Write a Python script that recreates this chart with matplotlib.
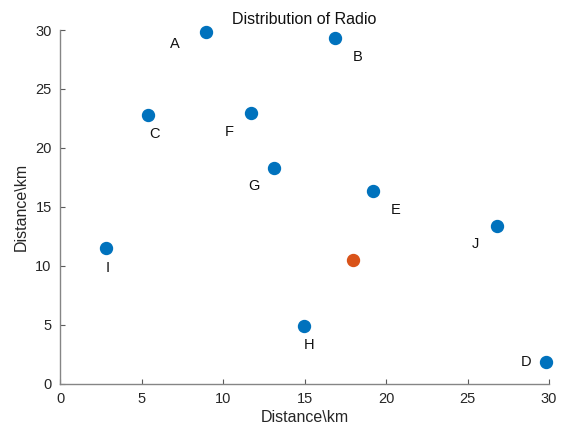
import matplotlib.pyplot as plt

plt.rcParams['font.family'] = ['Liberation Sans', 'DejaVu Sans']

# radio station positions (km)
names = ['A', 'B', 'C', 'D', 'E', 'F', 'G', 'H', 'I', 'J']
xs = [8.95, 16.85, 5.4, 29.8, 19.2, 11.7, 13.1, 14.95, 2.8, 26.8]
ys = [29.8, 29.3, 22.8, 1.85, 16.35, 22.95, 18.25, 4.9, 11.5, 13.35]
# the extra (orange) point
center_x = [17.95]
center_y = [10.5]

# label offsets from each point (data units)
label_dx = [-1.9, 1.4, 0.4, -1.2, 1.4, -1.3, -1.2, 0.35, 0.15, -1.3]
label_dy = [-1.0, -1.6, -1.6, -0.05, -1.6, -1.6, -1.5, -1.6, -1.7, -1.5]

fig = plt.figure(figsize=(5.65, 4.25), dpi=100)
ax = fig.add_axes([0.1062, 0.0976, 0.8655, 0.8318])

ax.plot(xs, ys, 'o', color='#0072BD', markersize=8.6, clip_on=False)
ax.plot(center_x, center_y, 'o', color='#D95319', markersize=8.6, clip_on=False)

for n, x, y, dx, dy in zip(names, xs, ys, label_dx, label_dy):
    ax.text(x + dx, y + dy, n, fontsize=10.5, ha='center', va='center', color='#111111')

ax.set_xlim(0, 30)
ax.set_ylim(0, 30)
ax.set_xticks(range(0, 31, 5))
ax.set_yticks(range(0, 31, 5))

for side in ['top', 'right']:
    ax.spines[side].set_visible(False)
for side in ['left', 'bottom']:
    ax.spines[side].set_color('#858585')
    ax.spines[side].set_linewidth(1.0)
ax.tick_params(direction='in', length=3.5, color='#5a5a5a', labelsize=10.5,
               labelcolor='#262626', pad=6)

ax.set_title('Distribution of Radio', fontsize=11.5, color='#111111', pad=4)
ax.set_xlabel('Distance\\km', fontsize=11.5, color='#262626', labelpad=3)
ax.set_ylabel('Distance\\km', fontsize=11.5, color='#262626', labelpad=5)

fig.savefig('out.png', dpi=100)
